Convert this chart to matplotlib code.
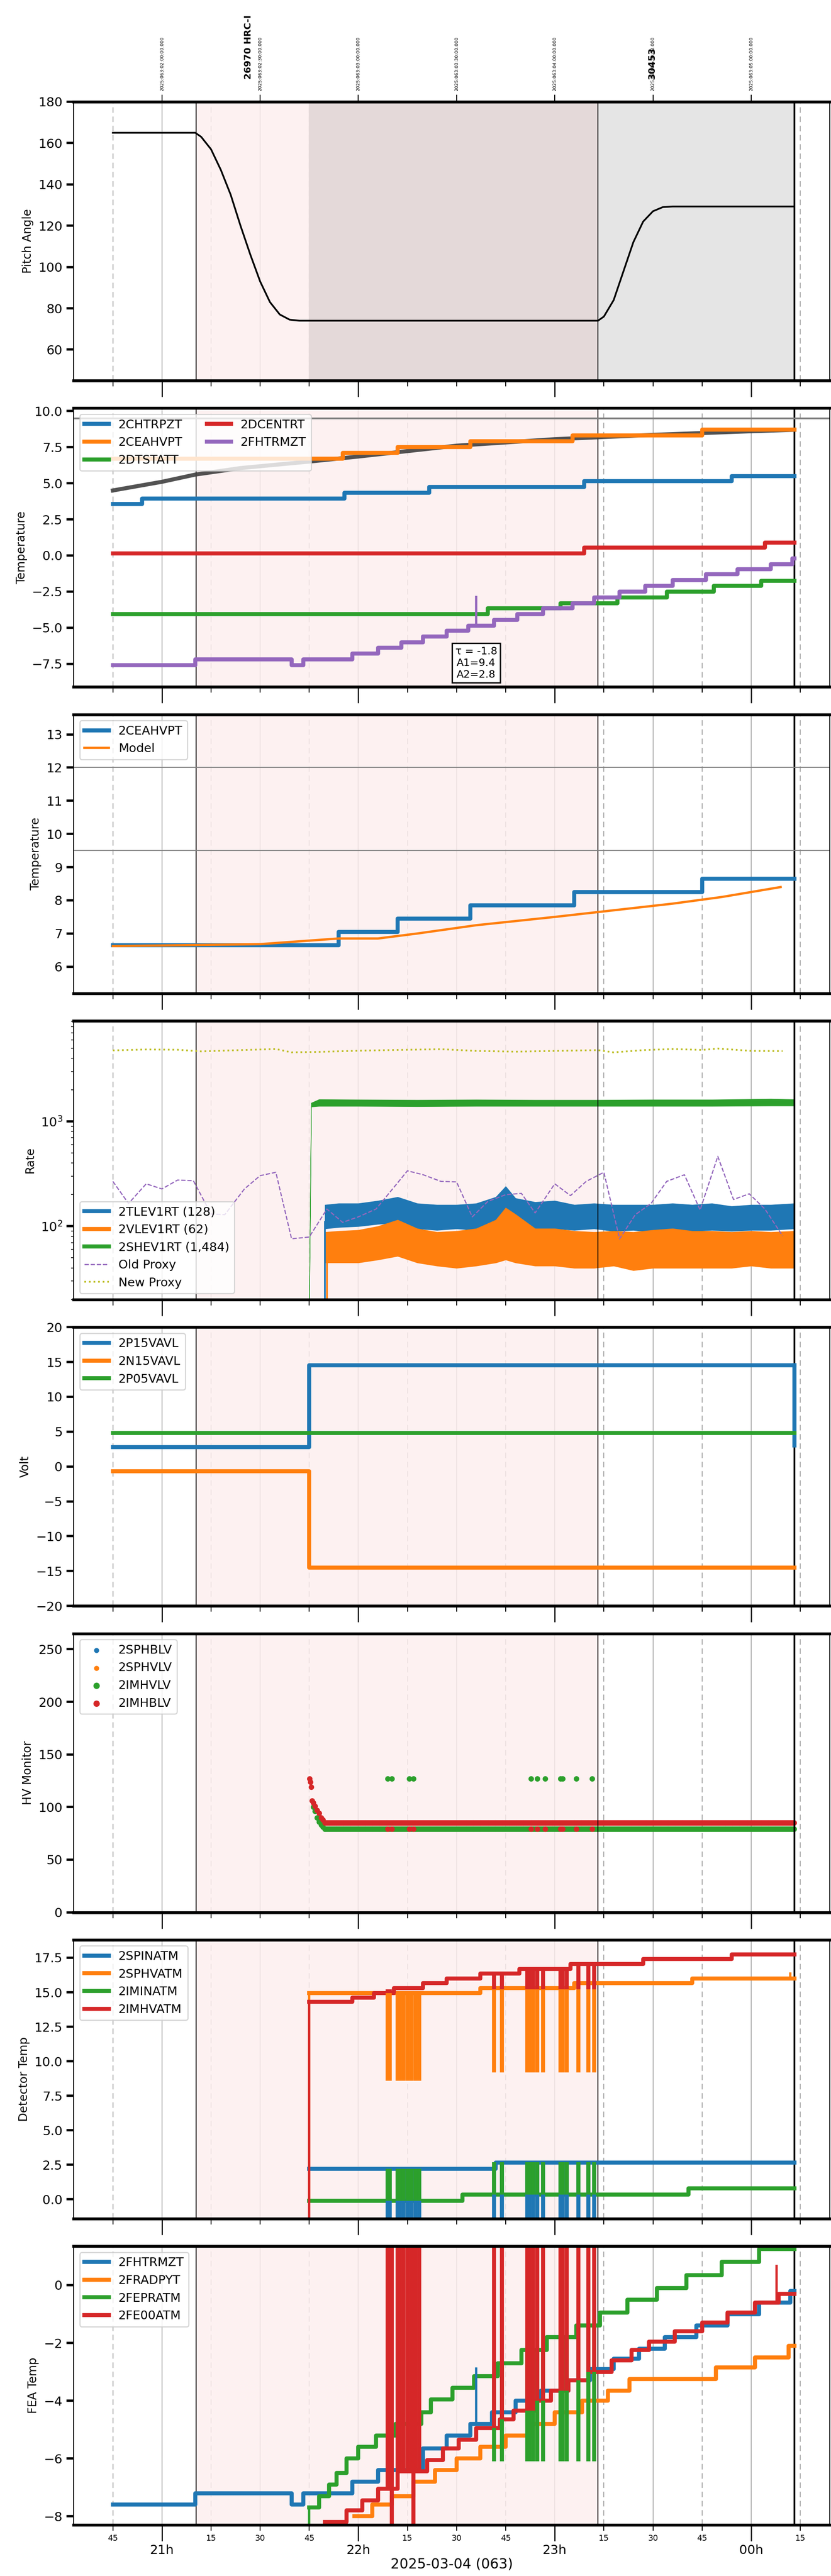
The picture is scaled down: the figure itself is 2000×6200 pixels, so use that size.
import numpy as np
import matplotlib
matplotlib.use("Agg")
import matplotlib.pyplot as plt

plt.rcParams['font.family'] = ['DejaVu Sans']
TICKFONT = ['Liberation Sans Narrow', 'DejaVu Sans']

# ---- time markers (hours of day, 24 = 00h next day)
t_start, t_end = 20.75, 24.22
obs1, obs2, obs3 = 21.175, 23.22, 24.22
dark_start = 21.75
xlim = (20.55, 24.40)

# ---- pitch
pitch_t = [20.75, 21.0, 21.17, 21.2, 21.25, 21.3, 21.35, 21.4, 21.45, 21.5, 21.55, 21.6, 21.65, 21.7,
           22.5, 23.22, 23.25, 23.3, 23.35, 23.4, 23.45, 23.5, 23.55, 23.6, 24.0, 24.22]
pitch_v = [165, 165, 165, 163, 157, 147, 135, 120, 106, 93, 83, 77, 74.5, 74,
           74, 74, 76, 84, 98, 112, 122, 127, 129, 129.3, 129.3, 129.3]

# ---- panel 2 temperatures (step breakpoints)
chtrpzt_t = [20.75, 20.9, 21.93, 22.36, 23.15, 23.9]
chtrpzt_v = [3.55, 3.95, 4.35, 4.75, 5.15, 5.5]
ceahvpt_t = [20.75, 21.92, 22.2, 22.57, 23.09, 23.75]
ceahvpt_v = [6.7, 7.1, 7.5, 7.9, 8.3, 8.7]
dtstatt_t = [20.75, 22.66, 23.03, 23.32, 23.57, 23.81, 24.05]
dtstatt_v = [-4.05, -3.65, -3.3, -2.9, -2.5, -2.1, -1.75]
dcentrt_t = [20.75, 23.15, 24.07]
dcentrt_v = [0.15, 0.55, 0.9]
fhtrmzt_t = [20.75, 21.17, 21.66, 21.72, 21.97, 22.1, 22.22, 22.33, 22.45, 22.56, 22.69, 22.81,
             22.94, 23.09, 23.2, 23.33, 23.46, 23.6, 23.77, 23.93, 24.1, 24.21]
fhtrmzt_v = [-7.6, -7.2, -7.6, -7.2, -6.8, -6.4, -6.0, -5.6, -5.2, -4.85, -4.45, -4.05,
             -3.65, -3.3, -2.9, -2.5, -2.1, -1.7, -1.3, -0.95, -0.6, -0.2]
model_t = [20.75, 21.0, 21.17, 21.4, 21.75, 22.0, 22.5, 23.0, 23.5, 24.0, 24.22]
model_v = [4.5, 5.1, 5.6, 6.05, 6.5, 6.85, 7.6, 8.05, 8.35, 8.6, 8.7]

# ---- panel 3
hvpt_t = [20.75, 21.9, 22.2, 22.57, 23.1, 23.75]
hvpt_v = [6.65, 7.05, 7.45, 7.85, 8.25, 8.65]
hvmod_t = [20.75, 21.0, 21.5, 21.9, 22.1, 22.3, 22.6, 23.0, 23.3, 23.6, 23.85, 24.0, 24.15]
hvmod_v = [6.62, 6.64, 6.68, 6.85, 6.85, 7.0, 7.25, 7.5, 7.7, 7.9, 8.1, 8.25, 8.4]

# ---- rates: envelopes of the noisy traces
rate_t = [21.83, 21.9, 22.0, 22.1, 22.2, 22.3, 22.4, 22.5, 22.6, 22.7, 22.75, 22.8, 22.9,
          23.0, 23.1, 23.2, 23.3, 23.4, 23.5, 23.6, 23.7, 23.8, 23.9, 24.0, 24.1, 24.22]
tlev_lo = [95, 98, 100, 105, 108, 95, 92, 95, 92, 95, 100, 92, 95, 95, 92, 95, 90, 92, 88, 92, 90, 92, 90, 92, 92, 95]
tlev_hi = [160, 165, 165, 175, 190, 165, 160, 160, 165, 190, 240, 185, 170, 175, 160, 165, 160, 160, 160, 165, 160, 165, 155, 160, 160, 165]
vlev_lo = [45, 45, 45, 48, 52, 45, 42, 40, 42, 45, 48, 45, 42, 42, 40, 40, 42, 38, 40, 40, 40, 40, 40, 42, 40, 40]
vlev_hi = [88, 90, 92, 100, 115, 95, 88, 90, 95, 115, 150, 130, 95, 95, 90, 88, 90, 88, 92, 95, 90, 90, 88, 90, 88, 90]
shev_t = [21.75, 21.76, 21.8, 22.0, 22.3, 22.6, 22.9, 23.2, 23.5, 23.8, 24.1, 24.22]
shev_lo = [20, 1380, 1400, 1400, 1390, 1400, 1400, 1400, 1400, 1400, 1410, 1410]
shev_hi = [20, 1500, 1620, 1610, 1600, 1610, 1600, 1600, 1610, 1610, 1640, 1620]
old_t = [20.75, 20.83, 20.92, 21.0, 21.08, 21.16, 21.25, 21.32, 21.42, 21.5, 21.58, 21.66, 21.75, 21.84,
         21.92, 22.0, 22.09, 22.17, 22.25, 22.33, 22.42, 22.5, 22.58, 22.66, 22.75, 22.83, 22.9, 23.0,
         23.08, 23.16, 23.25, 23.33, 23.41, 23.49, 23.57, 23.66, 23.74, 23.83, 23.91, 23.99, 24.07, 24.16]
old_v = [268, 165, 254, 227, 276, 272, 131, 129, 227, 304, 327, 76, 79, 146,
         109, 123, 146, 222, 338, 310, 268, 265, 123, 173, 200, 206, 134, 254,
         196, 268, 327, 76, 129, 165, 268, 310, 143, 464, 180, 204, 146, 81]
new_t = [20.75, 20.92, 21.08, 21.2, 21.35, 21.58, 21.66, 21.8, 22.0, 22.2, 22.42, 22.6, 22.8,
         23.0, 23.22, 23.3, 23.45, 23.6, 23.75, 23.83, 24.0, 24.16]
new_v = [4750, 4850, 4820, 4650, 4750, 4900, 4550, 4600, 4720, 4800, 4880, 4700, 4620,
         4700, 4780, 4550, 4780, 4900, 4800, 4950, 4700, 4680]

# ---- volts
p15_t = [20.75, 21.75, 24.22]
p15_v = [2.8, 14.5, 3.0]
n15_t = [20.75, 21.75, 24.22]
n15_v = [-0.7, -14.5, -14.5]
p05_t = [20.75, 24.22]
p05_v = [4.8, 4.8]

# ---- HV monitor
hv_ramp_t = [21.752, 21.755, 21.76, 21.765, 21.77, 21.78, 21.79, 21.80, 21.81, 21.82, 21.83]
hb_ramp_v = [127, 124, 119, 106, 104, 101, 97, 94, 90, 88, 85]
hv_ramp_v = [None, None, None, None, 100, 96, 90, 86, 83, 81, 79]
hb_level, hv_level = 85, 79
hv_glitch_t = [22.15, 22.17, 22.26, 22.28, 22.88, 22.91, 22.95, 23.03, 23.04, 23.11, 23.19]
hv_glitch_v = 127

# ---- detector temps
spinatm_t = [21.75, 22.7]
spinatm_v = [2.2, 2.65]
sphvatm_t = [21.75, 22.62, 23.1, 23.7]
sphvatm_v = [14.95, 15.3, 15.65, 16.0]
iminatm_t = [21.75, 22.53, 23.68]
iminatm_v = [-0.1, 0.35, 0.8]
imhvatm_t = [21.75, 21.97, 22.08, 22.18, 22.33, 22.45, 22.62, 22.82, 23.08, 23.45, 23.9]
imhvatm_v = [14.3, 14.6, 14.95, 15.3, 15.65, 16.0, 16.35, 16.7, 17.05, 17.4, 17.75]
glitch_a = [22.15, 22.16, 22.20, 22.21, 22.23, 22.25, 22.27, 22.29, 22.31]
glitch_b = [22.69, 22.73]
glitch_c = [22.86, 22.87, 22.89, 22.91, 22.94, 23.03, 23.04, 23.06, 23.12, 23.17, 23.20]

# ---- FEA temps
fea_blue_t = [20.75, 21.17, 21.66, 21.72, 21.97, 22.1, 22.33, 22.45, 22.57, 22.68, 22.8, 22.93,
              23.07, 23.18, 23.3, 23.43, 23.56, 23.72, 23.88, 24.04, 24.2]
fea_blue_v = [-7.6, -7.2, -7.6, -7.2, -6.8, -6.4, -5.65, -5.2, -4.8, -4.4, -4.0, -3.65,
              -3.3, -2.9, -2.55, -2.2, -1.8, -1.4, -1.0, -0.6, -0.2]
fea_orng_t = [21.98, 22.07, 22.17, 22.28, 22.39, 22.5, 22.62, 22.75, 22.88, 23.0, 23.14, 23.27,
              23.38, 23.82, 24.02, 24.19]
fea_orng_v = [-8.0, -7.6, -7.3, -6.8, -6.4, -6.0, -5.6, -5.2, -4.8, -4.4, -4.0, -3.65,
              -3.25, -2.85, -2.5, -2.1]
fea_grn_t = [21.75, 21.8, 21.85, 21.89, 21.94, 22.0, 22.09, 22.19, 22.32, 22.37, 22.48, 22.59,
             22.71, 22.83, 22.96, 23.11, 23.23, 23.37, 23.52, 23.67, 23.85, 24.04]
fea_grn_v = [-7.7, -7.3, -6.9, -6.5, -6.0, -5.6, -5.2, -4.8, -4.4, -3.95, -3.55, -3.15,
             -2.7, -2.25, -1.8, -1.4, -0.95, -0.5, -0.1, 0.35, 0.8, 1.25]
fea_red_t = [21.83, 21.94, 22.02, 22.1, 22.2, 22.35, 22.43, 22.51, 22.6, 22.72, 22.79, 22.9,
             22.98, 23.07, 23.17, 23.29, 23.39, 23.48, 23.61, 23.75, 23.88, 24.02, 24.14]
fea_red_v = [-8.2, -7.8, -7.45, -7.05, -6.45, -6.05, -5.65, -5.35, -4.95, -4.65, -4.35, -4.0,
             -3.65, -3.3, -3.0, -2.6, -2.25, -1.95, -1.6, -1.3, -0.95, -0.6, -0.3]

top_labels = ['2025:063:02:00:00.000', '2025:063:02:30:00.000', '2025:063:03:00:00.000',
              '2025:063:03:30:00.000', '2025:063:04:00:00.000', '2025:063:04:30:00.000',
              '2025:063:05:00:00.000']
top_ticks = [21.0, 21.5, 22.0, 22.5, 23.0, 23.5, 24.0]

C = plt.rcParams['axes.prop_cycle'].by_key()['color']
LW = 3.5


def step(ax, ts, vs, end, **kw):
    return ax.plot(list(ts) + [end], list(vs) + [vs[-1]], drawstyle='steps-post', **kw)


def value_at(ts, vs, t):
    return vs[max(np.searchsorted(ts, t, side='right') - 1, 0)]


def glitches(ax, ts, vs, times, gval, color):
    base = [value_at(ts, vs, t) for t in times]
    ax.vlines(times, base, gval, color=color, lw=LW)


fig = plt.figure(figsize=(10, 31), dpi=200)
axes = []
for i in range(8):
    top = (245 + i * 737.3) / 6200
    axes.append(fig.add_axes([0.0885, 1 - top - 671 / 6200, 0.91, 671 / 6200]))

quarters = np.arange(20.75, 24.40, 0.25)
for i, ax in enumerate(axes):
    ax.set_xlim(*xlim)
    for q in quarters:
        if abs(q * 2 - round(q * 2)) < 1e-6:
            ax.axvline(q, color='#b0b0b0', lw=0.8, zorder=0)
        else:
            ax.axvline(q, color='#aaaaaa', lw=0.8, ls=(0, (6, 4)), zorder=0)
    ax.axvspan(obs1, obs2, color='#fdeeee', alpha=0.8, zorder=0)
    if i == 0:
        ax.axvspan(dark_start, obs2, color='#e4d9d9', zorder=0)
        ax.axvspan(obs2, obs3, color='#e5e5e5', zorder=0)
    for x in (obs1, obs2):
        ax.axvline(x, color='black', lw=0.8)
    ax.axvline(obs3, color='black', lw=1.5)
    ax.set_xticks([21, 22, 23, 24])
    ax.set_xticks([q for q in quarters if abs(q - round(q)) > 1e-6], minor=True)
    ax.tick_params(axis='x', which='major', length=14, width=1)
    ax.tick_params(axis='x', which='minor', length=5, width=0.8)
    ax.tick_params(axis='y', which='major', length=6, width=2)
    ax.spines['top'].set_linewidth(2.5)
    ax.spines['bottom'].set_linewidth(2.5)
    if i < 7:
        ax.set_xticklabels([])
        ax.set_xticklabels([], minor=True)

# panel 1: pitch
ax = axes[0]
ax.plot(pitch_t, pitch_v, color='black', lw=1.5)
ax.set_ylim(45, 180)
ax.set_yticks(range(60, 181, 20))
ax.set_ylabel('Pitch Angle')
tw = ax.twiny()
tw.set_xlim(*xlim)
tw.set_xticks(top_ticks)
tw.set_xticklabels(top_labels, rotation=90, fontsize=4)
tw.tick_params(axis='x', length=6)
tw.text(21.44, 1.08, '26970 HRC-I', transform=tw.get_xaxis_transform(), rotation=90,
        fontsize=8, fontweight='bold', ha='center', va='bottom')
tw.text(23.495, 1.08, '30453', transform=tw.get_xaxis_transform(), rotation=90,
        fontsize=8, fontweight='bold', ha='center', va='bottom')

# panel 2
ax = axes[1]
ax.axhline(9.5, color='gray', lw=1.5)
ax.plot(model_t, model_v, color='#404040', lw=LW, alpha=0.9)
step(ax, chtrpzt_t, chtrpzt_v, t_end, color=C[0], lw=LW, label='2CHTRPZT')
step(ax, ceahvpt_t, ceahvpt_v, t_end, color=C[1], lw=LW, label='2CEAHVPT')
step(ax, dtstatt_t, dtstatt_v, t_end, color=C[2], lw=LW, label='2DTSTATT')
step(ax, dcentrt_t, dcentrt_v, t_end, color=C[3], lw=LW, label='2DCENTRT')
step(ax, fhtrmzt_t, fhtrmzt_v, t_end, color=C[4], lw=LW, label='2FHTRMZT')
ax.vlines([22.6], -4.85, -2.8, color=C[4], lw=2)
ax.set_ylim(-9.1, 10.2)
ax.set_ylabel('Temperature')
ax.legend(loc='upper left', ncol=2, prop={'family': TICKFONT, 'size': 10.5})
ax.text(22.6, -6.3, 'τ = -1.8\nA1=9.4\nA2=2.8', ha='center', va='top', family=TICKFONT,
        fontsize=9, linespacing=1.2, clip_on=False,
        bbox=dict(boxstyle='square,pad=0.3', fc='white', ec='black', lw=1.2))

# panel 3
ax = axes[2]
ax.axhline(12, color='gray', lw=0.8)
ax.axhline(9.5, color='gray', lw=0.8)
step(ax, hvpt_t, hvpt_v, t_end, color=C[0], lw=LW, label='2CEAHVPT')
ax.plot(hvmod_t, hvmod_v, color=C[1], lw=2, label='Model')
ax.set_ylim(5.2, 13.6)
ax.set_yticks(range(6, 14))
ax.set_ylabel('Temperature')
ax.legend(loc='upper left', prop={'family': TICKFONT, 'size': 10.5})

# panel 4: rates
ax = axes[3]
ax.fill_between(rate_t, tlev_lo, tlev_hi, color=C[0], lw=0.5)
ax.fill_between(rate_t, vlev_lo, vlev_hi, color=C[1], lw=0.5)
ax.fill_between(shev_t, shev_lo, shev_hi, color=C[2], lw=0.5)
ax.plot([21.83, 21.83], [20, 110], color=C[0], lw=1.5)
ax.plot([21.84, 21.84], [20, 60], color=C[1], lw=1.5)
ax.plot([], [], color=C[0], lw=LW, label='2TLEV1RT (128)')
ax.plot([], [], color=C[1], lw=LW, label='2VLEV1RT (62)')
ax.plot([], [], color=C[2], lw=LW, label='2SHEV1RT (1,484)')
ax.plot(old_t, old_v, color=C[4], lw=1, ls='--', label='Old Proxy')
ax.plot(new_t, new_v, color=C[8], lw=1.5, ls=':', label='New Proxy')
ax.set_yscale('log')
ax.set_ylim(20, 9100)
ax.set_ylabel('Rate')
ax.legend(loc='lower left', prop={'family': TICKFONT, 'size': 10.5})

# panel 5: volts
ax = axes[4]
step(ax, p15_t[:-1], p15_v[:-1], t_end, color=C[0], lw=LW, label='2P15VAVL')
ax.plot([t_end, t_end], [p15_v[1], p15_v[2]], color=C[0], lw=LW)
step(ax, n15_t[:-1], n15_v[:-1], t_end, color=C[1], lw=LW, label='2N15VAVL')
step(ax, p05_t[:-1], p05_v[:-1], t_end, color=C[2], lw=LW, label='2P05VAVL')
ax.set_ylim(-20, 20)
ax.set_yticks(range(-20, 21, 5))
ax.set_ylabel('Volt')
ax.legend(loc='upper left', prop={'family': TICKFONT, 'size': 10.5})

# panel 6: HV monitor
ax = axes[5]
cad = np.arange(21.83, t_end, 0.004)
ax.scatter([], [], s=8, color=C[0], label='2SPHBLV')
ax.scatter([], [], s=8, color=C[1], label='2SPHVLV')
gv_t = [t for t, v in zip(hv_ramp_t, hv_ramp_v) if v is not None]
gv_v = [v for v in hv_ramp_v if v is not None]
ax.scatter(list(gv_t) + list(cad), gv_v + [hv_level] * len(cad), s=14, color=C[2], label='2IMHVLV')
ax.scatter(hv_glitch_t, [hv_glitch_v] * len(hv_glitch_t), s=14, color=C[2])
ax.scatter(list(hv_ramp_t) + list(cad), hb_ramp_v + [hb_level] * len(cad), s=14, color=C[3], label='2IMHBLV')
ax.scatter(hv_glitch_t, [hv_level] * len(hv_glitch_t), s=14, color=C[3])
ax.set_ylim(0, 265)
ax.set_ylabel('HV Monitor')
ax.legend(loc='upper left', prop={'family': TICKFONT, 'size': 10.5}, markerscale=1.2)

# panel 7: detector temps
ax = axes[6]
step(ax, spinatm_t, spinatm_v, t_end, color=C[0], lw=LW, label='2SPINATM')
step(ax, sphvatm_t, sphvatm_v, t_end, color=C[1], lw=LW, label='2SPHVATM')
step(ax, iminatm_t, iminatm_v, t_end, color=C[2], lw=LW, label='2IMINATM')
step(ax, imhvatm_t, imhvatm_v, t_end, color=C[3], lw=LW, label='2IMHVATM')
ax.plot([21.75, 21.75], [-2, imhvatm_v[0]], color=C[3], lw=2)
ax.plot([21.75, 21.75], [-0.1, sphvatm_v[0]], color=C[1], lw=2, zorder=1)
gl = glitch_a + glitch_b + glitch_c
glitches(ax, spinatm_t, spinatm_v, gl, -2, C[0])
glitches(ax, sphvatm_t, sphvatm_v, glitch_a, 8.6, C[1])
glitches(ax, sphvatm_t, sphvatm_v, glitch_b + glitch_c, 9.2, C[1])
glitches(ax, iminatm_t, iminatm_v, glitch_a, 2.2, C[2])
glitches(ax, iminatm_t, iminatm_v, glitch_b + glitch_c, 2.7, C[2])
glitches(ax, imhvatm_t, imhvatm_v, gl, 15.2, C[3])
ax.plot([24.2, 24.2], [16.0, 16.35], color=C[1], lw=2)
ax.set_ylim(-1.4, 18.8)
ax.set_yticks(np.arange(0, 18, 2.5))
ax.set_ylabel('Detector Temp')
ax.legend(loc='upper left', prop={'family': TICKFONT, 'size': 10.5})

# panel 8: FEA temps
ax = axes[7]
step(ax, fea_blue_t, fea_blue_v, t_end, color=C[0], lw=LW, label='2FHTRMZT')
step(ax, fea_orng_t, fea_orng_v, t_end, color=C[1], lw=LW, label='2FRADPYT')
step(ax, fea_grn_t, fea_grn_v, t_end, color=C[2], lw=LW, label='2FEPRATM')
step(ax, fea_red_t, fea_red_v, t_end, color=C[3], lw=LW, label='2FE00ATM')
ax.plot([21.75, 21.75], [-9, fea_grn_v[0]], color=C[2], lw=2)
ax.plot([21.83, 21.83], [-9, fea_red_v[0]], color=C[3], lw=2)
ax.vlines([22.6], -4.8, -2.85, color=C[0], lw=2)
ax.vlines([24.13], -0.6, 0.7, color=C[3], lw=2)
glitches(ax, fea_grn_t, fea_grn_v, glitch_b + glitch_c, -6.1, C[2])
glitches(ax, fea_red_t, fea_red_v, glitch_a, 2, C[3])
ax.vlines([22.17, 22.28], -9, 2, color=C[3], lw=LW)
glitches(ax, fea_red_t, fea_red_v, glitch_b + glitch_c, 2, C[3])
ax.set_ylim(-8.3, 1.35)
ax.set_yticks(range(-8, 1, 2))
ax.set_ylabel('FEA Temp')
ax.legend(loc='upper left', prop={'family': TICKFONT, 'size': 10.5})

ax.set_xticklabels(['21h', '22h', '23h', '00h'], family=TICKFONT, fontsize=11)
minor_lbl = []
for q in [q for q in quarters if abs(q - round(q)) > 1e-6]:
    minor_lbl.append('%d' % round((q - np.floor(q)) * 60))
ax.set_xticklabels(minor_lbl, minor=True, family=TICKFONT, fontsize=7)
ax.tick_params(axis='x', which='major', pad=3)
ax.set_xlabel('2025-03-04 (063)', family=TICKFONT, fontsize=12, labelpad=1)
for a in axes:
    for lbl in a.get_yticklabels():
        lbl.set_family(TICKFONT)
        lbl.set_fontsize(11)

fig.savefig('out.png', dpi=200)
